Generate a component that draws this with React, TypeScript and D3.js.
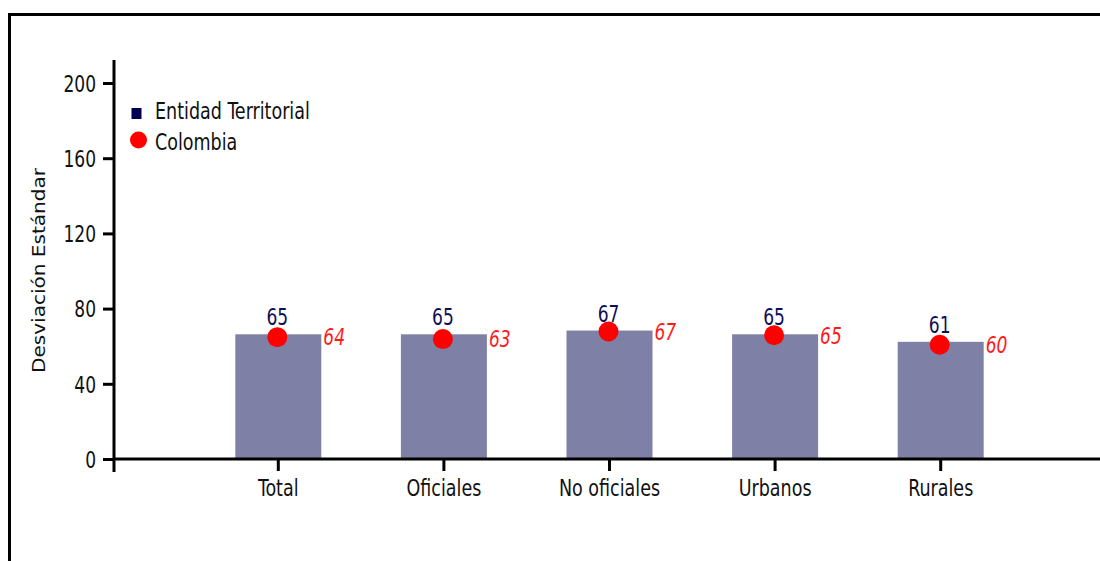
import React from "react";
import * as d3 from "d3";

const categories = ["Total", "Oficiales", "No oficiales", "Urbanos", "Rurales"];
const entidadValues = [65, 65, 67, 65, 61];
const colombiaValues = [64, 63, 67, 65, 60];
const yTicks = [0, 40, 80, 120, 160, 200];
const seriesNames = ["Entidad Territorial", "Colombia"];
const yTitle = "Desviación Estándar";

const W = 1100;
const H = 561;
const FONT = "'DejaVu Sans Condensed', 'DejaVu Sans', sans-serif";
const SY = 1.2;

function T(props: {
  x: number;
  y: number;
  children: React.ReactNode;
  anchor?: "start" | "middle" | "end";
  size?: number;
  fill?: string;
  italic?: boolean;
  middle?: boolean;
}) {
  const { x, y, children, anchor = "start", size = 19, fill = "#111", italic, middle } = props;
  return (
    <g transform={`translate(${x},${y}) scale(1,${SY})`}>
      <text
        x={0}
        y={0}
        dy={middle ? "0.36em" : undefined}
        textAnchor={anchor}
        fontSize={size}
        fill={fill}
        fontStyle={italic ? "italic" : undefined}
      >
        {children}
      </text>
    </g>
  );
}

export default function App() {
  const y = d3.scaleLinear().domain([0, 200]).range([459.5, 83.5]);
  const x = d3.scalePoint<string>().domain(categories).range([278.3, 940.7]);
  const barW = 86;
  const axisX = 114;
  const axisY = 459;

  return (
    <svg
      width={W}
      height={H}
      style={{ position: "absolute", left: 0, top: 0, background: "#fff" }}
      fontFamily={FONT}
    >
      {/* frame */}
      <line x1={8} x2={W} y1={14.5} y2={14.5} stroke="#000" strokeWidth={3} />
      <line x1={9.5} x2={9.5} y1={13} y2={H} stroke="#000" strokeWidth={3} />

      {/* bars */}
      {categories.map((c, i) => (
        <rect
          key={"b" + c}
          x={(x(c) as number) - barW / 2}
          y={y(entidadValues[i]) - 3}
          width={barW}
          height={y(0) - y(entidadValues[i]) + 3}
          fill="#7f80a6"
        />
      ))}

      {/* y axis */}
      <line x1={axisX} x2={axisX} y1={60} y2={472} stroke="#000" strokeWidth={3} />
      {yTicks.map((t) => (
        <g key={"yt" + t}>
          <line x1={103} x2={axisX} y1={y(t)} y2={y(t)} stroke="#000" strokeWidth={3} />
          <T x={96} y={y(t)} anchor="end" size={19} middle>
            {t}
          </T>
        </g>
      ))}
      <text
        transform={`translate(45,270.5) rotate(-90)`}
        textAnchor="middle"
        fontSize={18}
        fill="#111"
        textLength={205}
        lengthAdjust="spacingAndGlyphs"
      >
        {yTitle}
      </text>

      {/* x axis */}
      <line x1={axisX} x2={W} y1={axisY} y2={axisY} stroke="#000" strokeWidth={3} />
      {categories.map((c) => (
        <g key={"xt" + c}>
          <line
            x1={x(c)}
            x2={x(c)}
            y1={axisY}
            y2={471}
            stroke="#000"
            strokeWidth={3}
          />
          <T x={x(c) as number} y={496} anchor="middle" size={19.5}>
            {c}
          </T>
        </g>
      ))}

      {/* entidad labels */}
      {categories.map((c, i) => (
        <T
          key={"el" + c}
          x={(x(c) as number) - 1}
          y={y(entidadValues[i]) - 12}
          anchor="middle"
          size={19}
          fill="#0f0f55"
        >
          {entidadValues[i]}
        </T>
      ))}

      {/* colombia dots + labels */}
      {categories.map((c, i) => (
        <g key={"cd" + c}>
          <circle
            cx={(x(c) as number) - 1}
            cy={y(colombiaValues[i]) - 2}
            r={10}
            fill="#ff0000"
          />
          <T
            x={(x(c) as number) + 45}
            y={y(colombiaValues[i]) - 2}
            size={19}
            italic
            fill="#ff1a1a"
            middle
          >
            {colombiaValues[i]}
          </T>
        </g>
      ))}

      {/* legend */}
      <rect x={131.5} y={108} width={10} height={11} fill="#000050" />
      <T x={155} y={118.5} size={19.5}>
        {seriesNames[0]}
      </T>
      <circle cx={138.5} cy={140} r={8.5} fill="#ff0000" />
      <T x={155} y={150} size={19.5}>
        {seriesNames[1]}
      </T>
    </svg>
  );
}
